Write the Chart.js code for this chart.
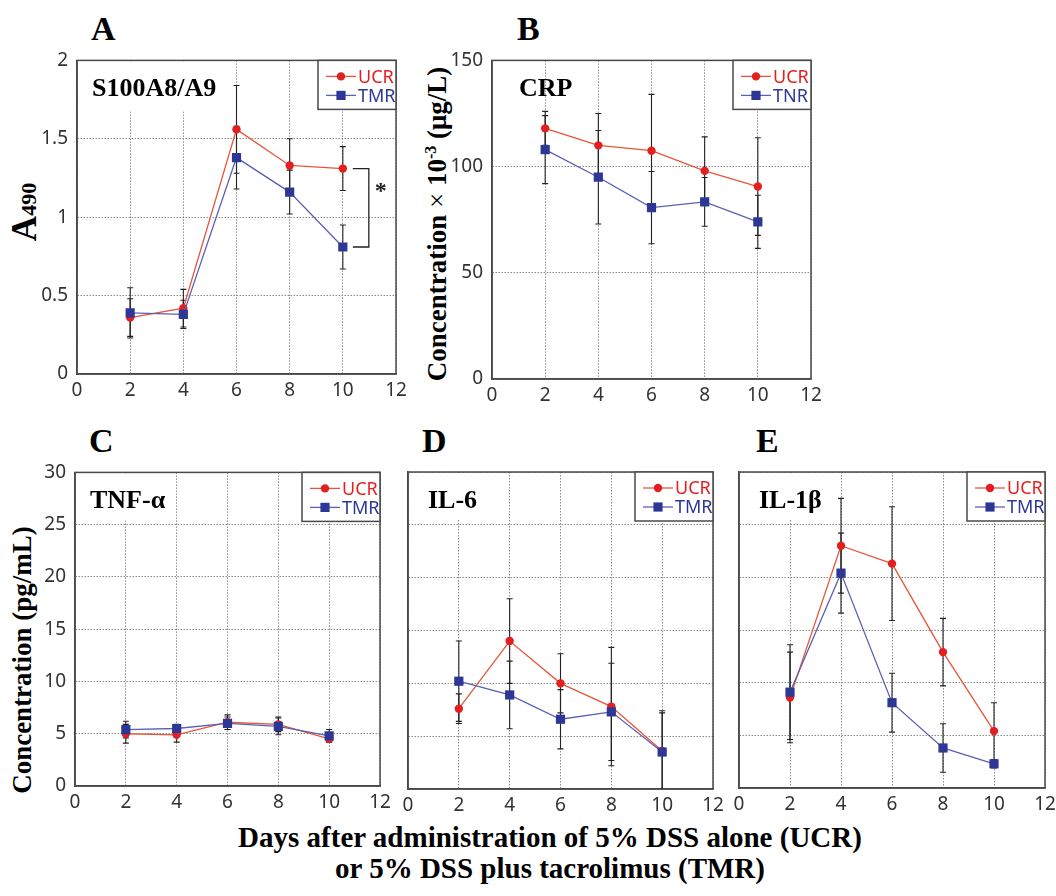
<!DOCTYPE html>
<html>
<head>
<meta charset="utf-8">
<script src="https://cdn.jsdelivr.net/npm/chart.js@4.4.0/dist/chart.umd.min.js"></script>
<style>
body { margin: 0; background: #fff; }
#page { position: relative; width: 1056px; height: 896px; overflow: hidden; background: #fff; font-family: "Liberation Serif", "Times New Roman", serif; }
.box { position: absolute; }
.letter { position: absolute; font-weight: bold; font-size: 34px; line-height: 1; }
.ytitle { position: absolute; transform: translate(-50%, -50%) rotate(-90deg); white-space: nowrap; font-weight: bold; font-size: 27px; line-height: 1; }
#xtitle { position: absolute; left: 0; width: 1100px; top: 822px; text-align: center; font-weight: bold; font-size: 29px; line-height: 31px; }
</style>
</head>
<body>
<div id="page">
  <div class="letter" style="left:91px;top:12px">A</div>
  <div class="letter" style="left:517px;top:12px">B</div>
  <div class="letter" style="left:89px;top:424px">C</div>
  <div class="letter" style="left:422px;top:424px">D</div>
  <div class="letter" style="left:756px;top:424px">E</div>

  <div class="ytitle" style="left:24px;top:212px"><span style="font-size:35px">A</span><span style="font-size:22px">490</span></div>
  <div class="ytitle" style="left:437px;top:224px">Concentration <span style="font-weight:normal">×</span> 10<sup style="font-size:16px">-3</sup> (μg/L)</div>
  <div class="ytitle" style="left:22px;top:660px">Concentration (pg/mL)</div>
  <div id="xtitle">Days after administration of 5% DSS alone (UCR)<br>or 5% DSS plus tacrolimus (TMR)</div>

  <div class="box"><canvas id="chartA" width="385" height="360"></canvas></div>
  <div class="box"><canvas id="chartB" width="385" height="365"></canvas></div>
  <div class="box"><canvas id="chartC" width="371" height="360"></canvas></div>
  <div class="box"><canvas id="chartD" width="371" height="363"></canvas></div>
  <div class="box"><canvas id="chartE" width="372" height="362"></canvas></div>
</div>
<script>
// days after DSS
const days = [2, 4, 6, 8, 10];
const xTickValues = [0, 2, 4, 6, 8, 10, 12];

// A: S100A8/A9 (A490)
const s100Ucr = [0.36, 0.42, 1.56, 1.33, 1.31];
const s100UcrErr = [0.12, 0.12, 0.28, 0.17, 0.14];
const s100Tmr = [0.39, 0.38, 1.38, 1.16, 0.81];
const s100TmrErr = [0.16, 0.09, 0.20, 0.14, 0.14];
const yTicksA = [0, 0.5, 1, 1.5, 2];

// B: CRP
const crpUcr = [118, 110, 107.5, 98, 90.6];
const crpUcrErr = [8, 15, 26.5, 16, 23];
const crpTmr = [108, 95, 80.7, 83.4, 74];
const crpTmrErr = [16, 22, 17, 11.5, 12.5];
const yTicksB = [0, 50, 100, 150];

// C: TNF-alpha
const tnfUcr = [5.0, 4.9, 6.1, 5.9, 4.5];
const tnfUcrErr = [0.9, 0.7, 0.7, 0.7, 0.3];
const tnfTmr = [5.4, 5.5, 6.0, 5.7, 4.8];
const tnfTmrErr = [0.8, 0.4, 0.6, 0.8, 0.6];

// D: IL-6
const il6Ucr = [7.6, 14.0, 10.0, 7.8, 3.6];
const il6UcrErr = [1.4, 4.0, 2.8, 5.6, 3.8];
const il6Tmr = [10.2, 8.9, 6.6, 7.3, 3.5];
const il6TmrErr = [3.8, 3.2, 2.8, 4.6, 3.7];

// E: IL-1beta
const il1bUcr = [8.6, 23.0, 21.3, 12.9, 5.4];
const il1bUcrErr = [4.3, 4.5, 5.4, 3.2, 2.7];
const il1bTmr = [9.1, 20.4, 8.1, 3.8, 2.3];
const il1bTmrErr = [4.5, 3.8, 2.8, 2.3, 0.4];
const yTicksCDE = [0, 5, 10, 15, 20, 25, 30];

const RED = '#e31f1f', RED_LINE = '#e8553a';
const BLUE = '#2d3896', BLUE_LINE = '#5a60b4';
const FRAME = '#4a4a4a', GRID = '#8c8c8c', TICK = '#333';

function drawMarker(ctx, style, x, y, color) {
  ctx.fillStyle = color;
  ctx.beginPath();
  if (style === 'circle') ctx.arc(x, y, 4.2, 0, Math.PI * 2);
  else ctx.rect(x - 4.6, y - 4.6, 9.2, 9.2);
  ctx.fill();
}

const extras = {
  id: 'extras',
  beforeDatasetsDraw(chart, args, o) {
    const {ctx, chartArea: a} = chart;
    const xs = chart.scales.x, ys = chart.scales.y;
    ctx.save();
    if (o.mask) {
      ctx.fillStyle = '#fff';
      ctx.fillRect(a.left + 1, a.top + 1, o.mask[0], o.mask[1]);
    }
    ctx.strokeStyle = FRAME;
    ctx.lineWidth = 1.5;
    ctx.strokeRect(a.left, a.top, a.right - a.left, a.bottom - a.top);

    // error bars
    ctx.beginPath();
    ctx.rect(a.left, a.top, a.right - a.left, a.bottom - a.top);
    ctx.clip();
    ctx.strokeStyle = '#222';
    ctx.lineWidth = 1.1;
    chart.data.datasets.forEach(ds => {
      ds.data.forEach((pt, i) => {
        const e = ds.err[i];
        const x = xs.getPixelForValue(pt.x);
        const yHi = ys.getPixelForValue(pt.y + e);
        const yLo = ys.getPixelForValue(pt.y - e);
        ctx.beginPath();
        ctx.moveTo(x, yHi); ctx.lineTo(x, yLo);
        ctx.moveTo(x - 3, yHi); ctx.lineTo(x + 3, yHi);
        ctx.moveTo(x - 3, yLo); ctx.lineTo(x + 3, yLo);
        ctx.stroke();
      });
    });
    ctx.restore();
  },
  afterDatasetsDraw(chart, args, o) {
    const {ctx, chartArea: a} = chart;
    const xs = chart.scales.x, ys = chart.scales.y;
    ctx.save();
    // panel title
    ctx.fillStyle = '#000';
    ctx.font = 'bold 26px "Liberation Serif"';
    ctx.textBaseline = 'alphabetic';
    ctx.fillText(o.title, a.left + o.titleX, a.top + 36);

    // legend box
    const bw = 78, bh = 49, bx = a.right - bw, by = a.top;
    ctx.fillStyle = '#fff';
    ctx.fillRect(bx, by, bw, bh);
    ctx.strokeStyle = FRAME;
    ctx.lineWidth = 1.5;
    ctx.strokeRect(bx, by, bw, bh);
    ctx.font = '18px "Noto Sans"';
    ctx.textBaseline = 'middle';
    chart.data.datasets.forEach((ds, i) => {
      const ly = by + 16 + i * 19;
      ctx.strokeStyle = ds.borderColor;
      ctx.lineWidth = 1.3;
      ctx.beginPath();
      ctx.moveTo(bx + 8, ly); ctx.lineTo(bx + 38, ly);
      ctx.stroke();
      drawMarker(ctx, ds.pointStyle, bx + 23, ly, ds.pointBackgroundColor);
      ctx.fillStyle = ds.pointBackgroundColor;
      ctx.fillText(ds.label, bx + 40, ly + 1);
    });

    // significance bracket
    if (o.bracket !== undefined) {
      const i = o.bracket;
      const d0 = chart.data.datasets[0].data[i], d1 = chart.data.datasets[1].data[i];
      const x = xs.getPixelForValue(d0.x);
      const y0 = ys.getPixelForValue(d0.y), y1 = ys.getPixelForValue(d1.y);
      ctx.strokeStyle = '#222';
      ctx.lineWidth = 1.3;
      ctx.beginPath();
      ctx.moveTo(x + 10, y0); ctx.lineTo(x + 26, y0); ctx.lineTo(x + 26, y1); ctx.lineTo(x + 10, y1);
      ctx.stroke();
      ctx.fillStyle = '#222';
      ctx.font = 'bold 24px "Liberation Serif"';
      ctx.textBaseline = 'middle';
      ctx.fillText('*', x + 32, y0 + (y1 - y0) * 0.3);
    }
    ctx.restore();
  }
};

function series(label, values, errs, color, lineColor, style, order) {
  return {
    label: label,
    data: days.map((d, i) => ({x: d, y: values[i]})),
    err: errs,
    borderColor: lineColor,
    backgroundColor: color,
    pointBackgroundColor: color,
    pointBorderColor: color,
    pointBorderWidth: 0,
    pointStyle: style,
    pointRadius: style === 'circle' ? 4.2 : 6.5,
    borderWidth: 1.3,
    tension: 0,
    order: order
  };
}

// move / resize the canvas so the plot area sits exactly on the target rectangle
function fitTo(chart, t) {
  for (let k = 0; k < 2; k++) {
    const a = chart.chartArea;
    chart.resize(Math.round(chart.width + t.w - (a.right - a.left)), Math.round(chart.height + t.h - (a.bottom - a.top)));
  }
  const a = chart.chartArea;
  const box = chart.canvas.parentNode;
  box.style.left = (t.x - a.left) + 'px';
  box.style.top = (t.y - a.top) + 'px';
}

function panel(id, p) {
  const ctx = document.getElementById(id).getContext('2d');
  const chart = new Chart(ctx, {
    type: 'line',
    data: {
      datasets: [
        series('UCR', p.ucr, p.ucrErr, RED, RED_LINE, 'circle', 1),
        series(p.tmrLabel || 'TMR', p.tmr, p.tmrErr, BLUE, BLUE_LINE, 'rect', 0)
      ]
    },
    options: {
      responsive: false,
      maintainAspectRatio: false,
      animation: false,
      events: [],
      layout: {padding: {top: 14, right: 16, left: 0, bottom: 0}},
      plugins: {
        legend: {display: false},
        tooltip: {enabled: false},
        extras: {title: p.title, titleX: p.titleX, mask: p.mask, bracket: p.bracket}
      },
      scales: {
        x: {
          type: 'linear', min: 0, max: 12,
          afterBuildTicks: s => { s.ticks = xTickValues.map(v => ({value: v})); },
          afterFit: s => { s.height = 32; },
          grid: {color: GRID, lineWidth: 1, drawTicks: false},
          border: {display: true, color: FRAME, width: 1.5, dash: [1.5, 1.5]},
          ticks: {padding: 5, color: TICK, font: {family: 'Noto Sans', size: 19}, maxRotation: 0, callback: v => String(v)}
        },
        y: {
          type: 'linear', min: 0, max: p.yTicks[p.yTicks.length - 1],
          afterBuildTicks: s => { s.ticks = p.yTicks.map(v => ({value: v})); },
          afterFit: s => { s.width = 50; },
          grid: {color: GRID, lineWidth: 1, drawTicks: false},
          border: {display: true, color: FRAME, width: 1.5, dash: [1.5, 1.5]},
          ticks: {display: p.yLabels !== false, padding: 9, color: TICK, font: {family: 'Noto Sans', size: 19}, callback: v => String(v)}
        }
      }
    },
    plugins: [extras]
  });
  fitTo(chart, p.area);
  return chart;
}

panel('chartA', {ucr: s100Ucr, ucrErr: s100UcrErr, tmr: s100Tmr, tmrErr: s100TmrErr,
  yTicks: yTicksA, title: 'S100A8/A9', titleX: 15, mask: [148, 50], bracket: 4,
  area: {x: 77, y: 60, w: 319, h: 314}});
panel('chartB', {ucr: crpUcr, ucrErr: crpUcrErr, tmr: crpTmr, tmrErr: crpTmrErr,
  yTicks: yTicksB, title: 'CRP', titleX: 27, tmrLabel: 'TNR',
  area: {x: 492, y: 60, w: 319, h: 319}});
panel('chartC', {ucr: tnfUcr, ucrErr: tnfUcrErr, tmr: tnfTmr, tmrErr: tnfTmrErr,
  yTicks: yTicksCDE, title: 'TNF-α', titleX: 15, mask: [98, 47],
  area: {x: 75, y: 472, w: 305, h: 314}});
panel('chartD', {ucr: il6Ucr, ucrErr: il6UcrErr, tmr: il6Tmr, tmrErr: il6TmrErr,
  yTicks: yTicksCDE, title: 'IL-6', titleX: 20, mask: [82, 47], yLabels: false,
  area: {x: 408, y: 472, w: 305, h: 317}});
panel('chartE', {ucr: il1bUcr, ucrErr: il1bUcrErr, tmr: il1bTmr, tmrErr: il1bTmrErr,
  yTicks: yTicksCDE, title: 'IL-1β', titleX: 20, mask: [88, 47], yLabels: false,
  area: {x: 739, y: 472, w: 306, h: 316}});
</script>
</body>
</html>
